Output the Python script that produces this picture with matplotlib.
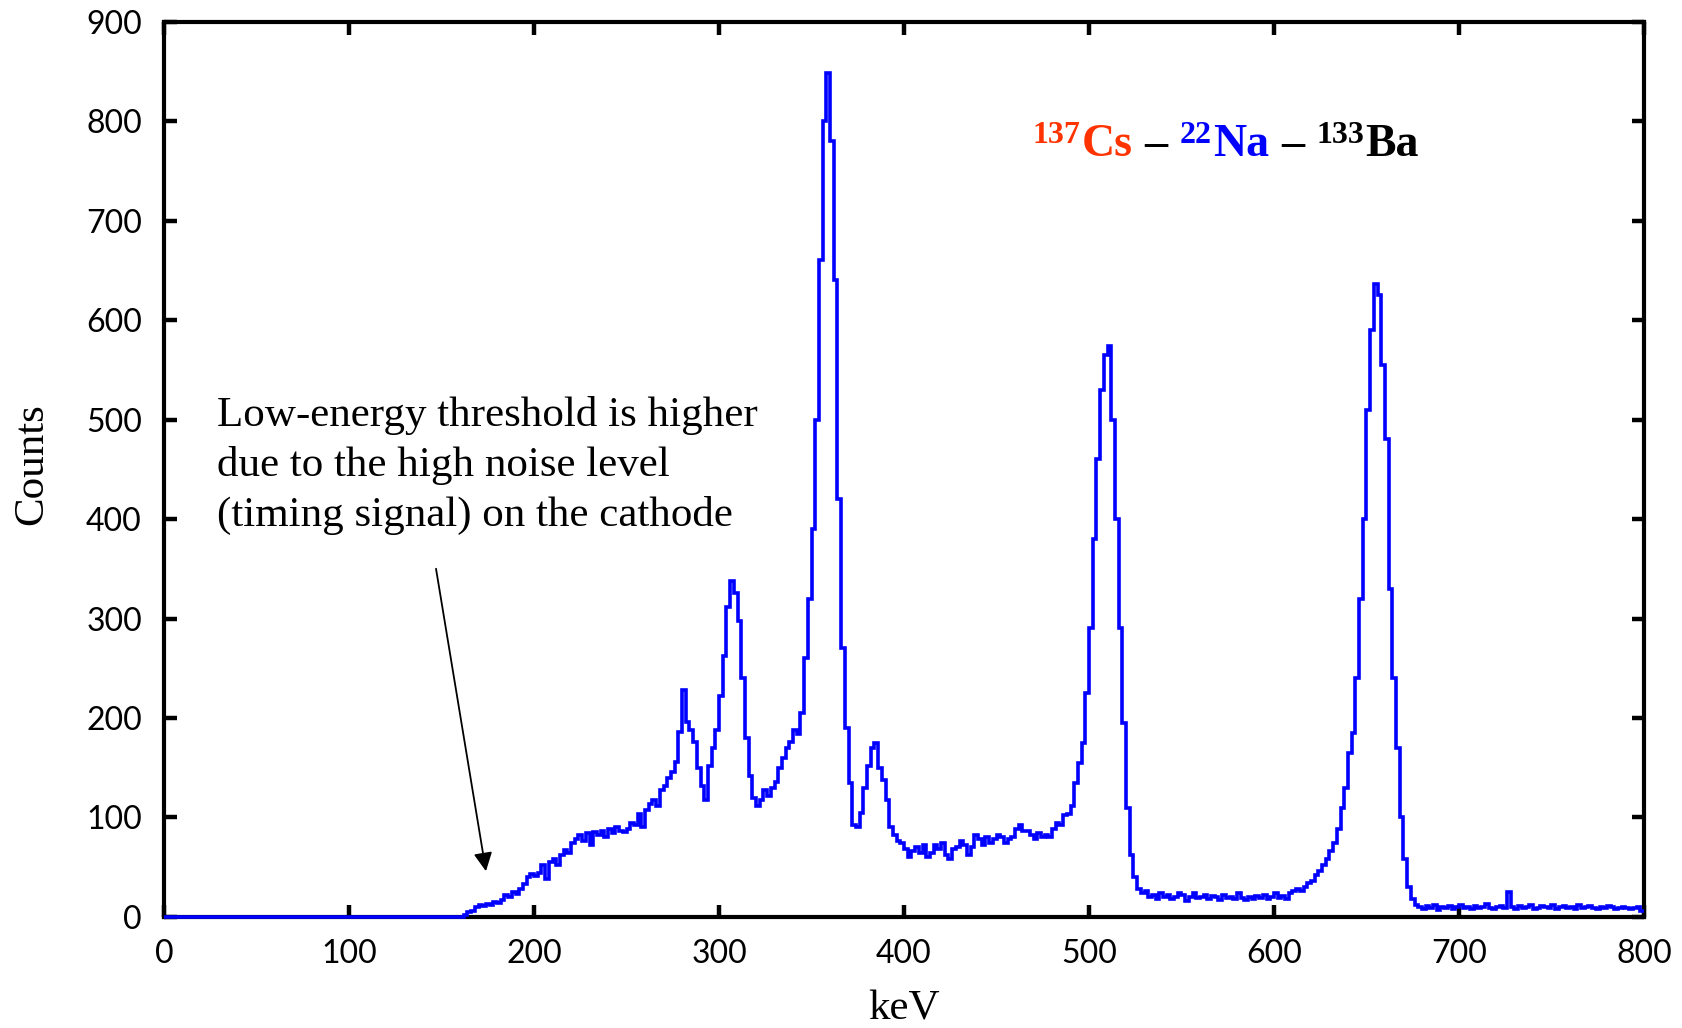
import numpy as np
import matplotlib
matplotlib.use("Agg")
import matplotlib.pyplot as plt

# Energy spectrum: 2 keV channels from 0 to 800 keV
bin_width_kev = 2.0
energy_start_kev = 0.0

counts = [
    # 0 - 162 keV : below threshold
    0, 0, 0, 0, 0, 0, 0, 0, 0, 0, 0, 0, 0, 0, 0, 0, 0, 0, 0, 0,
    0, 0, 0, 0, 0, 0, 0, 0, 0, 0, 0, 0, 0, 0, 0, 0, 0, 0, 0, 0,
    0, 0, 0, 0, 0, 0, 0, 0, 0, 0, 0, 0, 0, 0, 0, 0, 0, 0, 0, 0,
    0, 0, 0, 0, 0, 0, 0, 0, 0, 0, 0, 0, 0, 0, 0, 0, 0, 0, 0, 0,
    0,
    # 162 - 280 keV : Compton continuum
    2, 5, 6, 10, 12, 11, 13, 12, 15, 14, 17, 22, 20, 25, 23, 28, 33, 40, 43,
    41, 44, 52, 38, 55, 58, 52, 62, 67, 64, 74, 78, 82, 76, 84, 72, 85, 82, 86, 80,
    88, 84, 90, 86, 85, 88, 94, 92, 104, 90, 108, 114, 118, 112, 128, 132, 140, 146, 156, 186,
    # 280 - 400 keV : 133Ba lines
    228, 196, 188, 176, 150, 132, 118, 152, 170, 188,
    222, 262, 312, 338, 326, 298, 240, 180, 142, 120,
    112, 118, 128, 122, 130, 136, 150, 160, 170, 176,
    188, 184, 205, 260, 320, 390, 500, 660, 800, 848,
    780, 640, 420, 270, 190, 135, 92, 90, 105, 130,
    152, 170, 175, 150, 138, 118, 90, 82, 76, 74,
    # 400 - 530 keV : annihilation line
    68, 60, 66, 70, 64, 72, 60, 64, 72, 68,
    74, 62, 58, 68, 70, 76, 72, 62, 70, 82,
    78, 72, 80, 74, 78, 82, 80, 74, 78, 80,
    88, 92, 86, 86, 82, 78, 84, 80, 82, 80,
    88, 94, 92, 102, 104, 112, 135, 155, 175, 225,
    290, 380, 460, 530, 565, 574, 500, 400, 290, 195,
    110, 62, 40, 28, 24,
    # 530 - 676 keV : 137Cs line
    26, 20, 22, 18, 24, 20, 22, 18, 20, 24,
    22, 16, 20, 24, 19, 20, 22, 18, 21, 20,
    17, 22, 19, 20, 18, 24, 19, 17, 20, 18,
    21, 19, 22, 18, 20, 24, 19, 21, 18, 24,
    26, 28, 26, 30, 34, 36, 42, 46, 52, 58,
    66, 74, 88, 110, 130, 165, 185, 240, 320, 400,
    510, 590, 636, 625, 555, 480, 330, 240, 170, 100,
    58, 30, 18,
    # 676 - 800 keV : tail
    12, 10, 8, 11, 9, 12, 7, 10, 9, 11,
    8, 10, 12, 9, 10, 8, 11, 9, 10, 13,
    9, 8, 10, 11, 9, 25, 10, 8, 11, 9,
    10, 12, 8, 9, 11, 10, 9, 12, 8, 10,
    11, 9, 10, 8, 12, 9, 10, 11, 9, 8,
    10, 9, 11, 10, 8, 9, 10, 9, 8, 9,
    10, 6,
]

x_ticks = [0, 100, 200, 300, 400, 500, 600, 700, 800]
y_ticks = [0, 100, 200, 300, 400, 500, 600, 700, 800, 900]
x_label = "keV"
y_label = "Counts"
note_lines = [
    "Low-energy threshold is higher",
    "due to the high noise level",
    "(timing signal) on the cathode",
]

# Source list: (mass number, symbol, colour)
sources = [("137", "Cs", "#FF3300"), ("22", "Na", "#0000FF"), ("133", "Ba", "#000000")]

counts = np.asarray(counts, dtype=float)
edges = energy_start_kev + bin_width_kev * np.arange(len(counts) + 1)

fig = plt.figure(figsize=(16.83, 10.28), dpi=100)
ax = fig.add_axes([0.0975, 0.108, 0.8793, 0.871])

ax.stairs(counts, edges, baseline=None, color="#0000FF", linewidth=2.6,
          zorder=3, clip_on=False)

ax.set_xlim(0, 800)
ax.set_ylim(0, 900)
ax.set_xticks(x_ticks)
ax.set_yticks(y_ticks)

for sp in ax.spines.values():
    sp.set_linewidth(3.0)
    sp.set_color("black")

ax.tick_params(axis="both", which="both", direction="in", length=9, width=3.2,
               top=True, right=True, colors="black")
ax.tick_params(axis="x", pad=16)
ax.tick_params(axis="y", pad=16)

for lab in ax.get_xticklabels() + ax.get_yticklabels():
    lab.set_fontfamily(["Lato", "DejaVu Sans"])
    lab.set_fontweight("normal")
    lab.set_fontsize(23)
    lab.set_color("black")

serif = ["Liberation Serif", "DejaVu Serif"]
ax.text(0.5, -0.103, x_label, transform=ax.transAxes, ha="center", va="center",
        fontsize=31, family=serif)
ax.text(-0.089, 0.506, y_label, transform=ax.transAxes, ha="center", va="center",
        rotation=90, fontsize=31, family=serif)

# Explanatory note with arrow pointing at the threshold
ax.text(28.6, 454, "\n".join(note_lines), ha="left", va="center",
        fontsize=31, family=serif, linespacing=1.36)
ax.annotate("", xy=(174, 46), xytext=(147, 350),
            arrowprops=dict(arrowstyle="-|>", color="black", lw=1.3,
                            mutation_scale=28, shrinkA=0, shrinkB=0))

# Source label: superscripted mass numbers, coloured symbols, en dashes
fig.canvas.draw()
renderer = fig.canvas.get_renderer()
inv = ax.transAxes.inverted()
x_disp, y_base = ax.transAxes.transform((0.587, 0.850))
main_size = 33
sup_size = 23
sup_raise = 13
dash_gap = 12

for i, (mass, sym, col) in enumerate(sources):
    t = ax.text(*inv.transform((x_disp, y_base + sup_raise)), mass, color=col,
                fontsize=sup_size, fontweight="bold", family=serif,
                ha="left", va="baseline", transform=ax.transAxes)
    x_disp = t.get_window_extent(renderer).x1 + 1
    t = ax.text(*inv.transform((x_disp, y_base)), sym, color=col,
                fontsize=main_size, fontweight="bold", family=serif,
                ha="left", va="baseline", transform=ax.transAxes)
    x_disp = t.get_window_extent(renderer).x1
    if i < len(sources) - 1:
        x_disp += dash_gap
        t = ax.text(*inv.transform((x_disp, y_base)), "\u2013", color="black",
                    fontsize=main_size, fontweight="bold", family=serif,
                    ha="left", va="baseline", transform=ax.transAxes)
        x_disp = t.get_window_extent(renderer).x1 + dash_gap

fig.savefig("out.png", dpi=100, facecolor="white")
